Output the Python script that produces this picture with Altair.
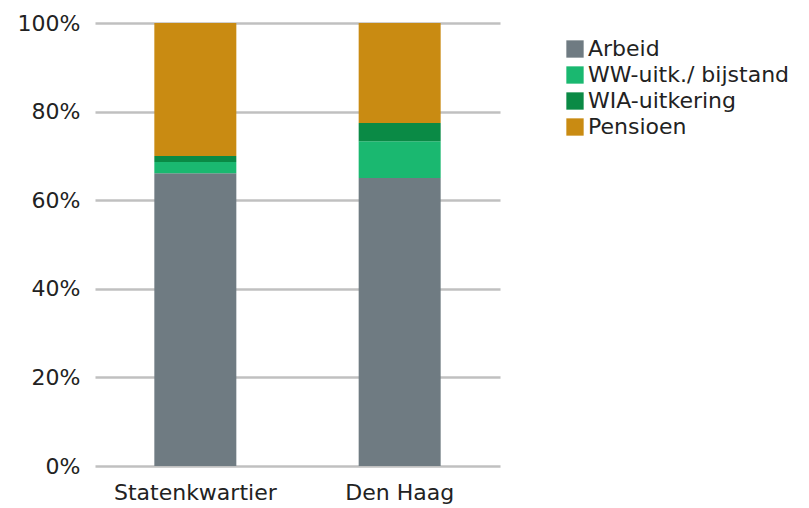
import altair as alt
import pandas as pd

regions = ["Statenkwartier", "Den Haag"]
categories = ["Arbeid", "WW-uitk./ bijstand", "WIA-uitkering", "Pensioen"]
statenkwartier = [66.1, 2.5, 1.4, 30.0]
den_haag = [65.0, 8.3, 4.1, 22.6]
colors = ["#6f7b82", "#1ab870", "#0a8a45", "#c98b12"]

FONT = "DejaVu Sans"

rows = []
for region, vals in zip(regions, [statenkwartier, den_haag]):
    for i, (cat, v) in enumerate(zip(categories, vals)):
        rows.append({"regio": region, "bron": cat, "aandeel": v / 100.0, "volgorde": i})
df = pd.DataFrame(rows)

chart = alt.Chart(df).mark_bar(size=82).encode(
    x=alt.X("regio:N", sort=regions, title=None,
            scale=alt.Scale(paddingInner=0.598, paddingOuter=0.29),
            axis=alt.Axis(labelAngle=0, labelFontSize=22, labelPadding=16,
                          domain=False, ticks=False, grid=False,
                          labelColor="#222222", labelFont=FONT)),
    y=alt.Y("aandeel:Q", stack="zero", title=None,
            scale=alt.Scale(domain=[0, 1], nice=False),
            axis=alt.Axis(format="%", values=[0, 0.2, 0.4, 0.6, 0.8, 1.0],
                          labelFontSize=22, labelPadding=15, domain=False, ticks=False,
                          grid=True, gridColor="#c0c0c0", gridWidth=2.5,
                          labelColor="#222222", labelFont=FONT)),
    color=alt.Color("bron:N", sort=categories,
                    scale=alt.Scale(domain=categories, range=colors),
                    legend=alt.Legend(title=None, orient="none", legendX=469, legendY=15,
                                      symbolType="square", symbolSize=300,
                                      symbolStrokeWidth=0, labelFontSize=22,
                                      labelFont=FONT, labelColor="#222222",
                                      labelLimit=400,
                                      labelOffset=2, rowPadding=4, padding=0)),
    order=alt.Order("volgorde:Q", sort="ascending"),
).properties(
    width=405, height=443,
    padding={"left": 9, "top": 4, "right": 5, "bottom": 5},
).configure_view(stroke=None)

chart.save("out.html", embed_options={"renderer": "svg", "actions": False})
